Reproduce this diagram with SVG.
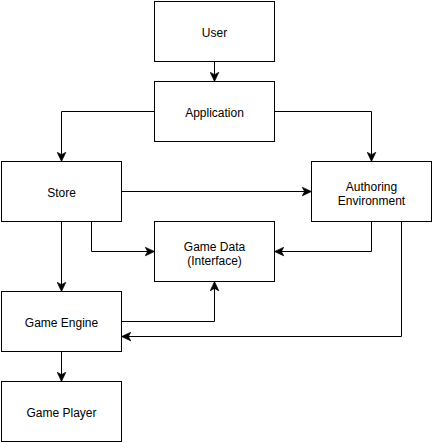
<svg xmlns="http://www.w3.org/2000/svg" width="433" height="443" viewBox="0 0 433 443">
<style>
rect.n{fill:#fff;stroke:#000;stroke-width:1}
text{font-family:"Liberation Sans",Arial,sans-serif;font-size:12px;fill:#000;text-anchor:middle}
.c path{fill:none;stroke:#000;stroke-width:1;marker-end:url(#a)}
</style>
<defs>
<marker id="a" markerUnits="userSpaceOnUse" markerWidth="10" markerHeight="10" viewBox="0 0 8 8" refX="7.5" refY="4" orient="auto">
<path d="M0,0.5 L7.5,4 L0,7.5 L2,4 Z" fill="#000" stroke="#000" stroke-width="0.5"/>
</marker>
</defs>
<rect width="433" height="443" fill="#fff"/>
<g class="c" id="connectors">
<path d="M214.5,61.5 V81.5"/>
<path d="M154.5,111.5 H61.5 V161.5"/>
<path d="M274.5,111.5 H371.5 V161.5"/>
<path d="M121.5,191.5 H311.5"/>
<path d="M61.5,221.5 V291.5"/>
<path d="M91.5,221.5 V251.5 H154.5"/>
<path d="M371.5,221.5 V251.5 H274.5"/>
<path d="M401.5,221.5 V336.5 H121.5"/>
<path d="M121.5,321.5 H214.5 V281.5"/>
<path d="M61.5,351.5 V381.5"/>
</g>
<g id="user"><rect class="n" x="154.5" y="1.5" width="120" height="60"/><text x="214.5" y="36.5">User</text></g>
<g id="application"><rect class="n" x="154.5" y="81.5" width="120" height="60"/><text x="214.5" y="116.5">Application</text></g>
<g id="store"><rect class="n" x="1.5" y="161.5" width="120" height="60"/><text x="61.5" y="196.5">Store</text></g>
<g id="authoring"><rect class="n" x="311.5" y="161.5" width="120" height="60"/><text x="371.5" y="190.5">Authoring</text><text x="371.5" y="204.5">Environment</text></g>
<g id="gamedata"><rect class="n" x="154.5" y="221.5" width="120" height="60"/><text x="214.5" y="250.5">Game Data</text><text x="214.5" y="264.5">(Interface)</text></g>
<g id="gameengine"><rect class="n" x="1.5" y="291.5" width="120" height="60"/><text x="61.5" y="326.5">Game Engine</text></g>
<g id="gameplayer"><rect class="n" x="1.5" y="381.5" width="120" height="60"/><text x="61.5" y="416.5">Game Player</text></g>
</svg>
